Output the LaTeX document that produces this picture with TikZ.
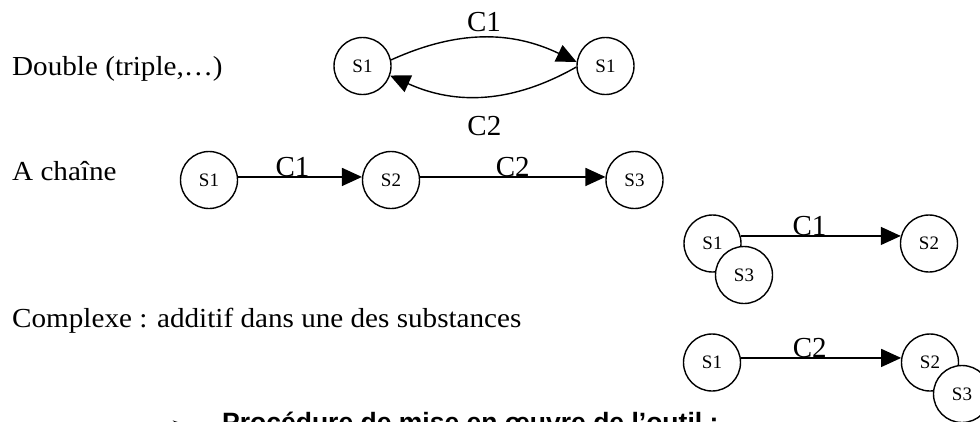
\documentclass[tikz,border=0pt]{standalone}
\usepackage{fontspec}
\setmainfont{Liberation Serif}
\newfontfamily\bodyfont[FakeStretch=1.06]{Liberation Serif}
\newfontfamily\headfont{Liberation Sans}
\newfontfamily\symbfont{DejaVu Sans}
\usepackage{tikz}
\usetikzlibrary{arrows.meta}

\begin{document}
\begin{tikzpicture}[x=1pt, y=1pt,
  state/.style={circle, draw, fill=white, line width=1.4pt, minimum size=57pt,
    inner sep=0pt, font=\fontsize{19}{19}\selectfont},
  link/.style={line width=1.4pt, -{Triangle[length=20pt, width=18pt]}},
  lbl/.style={font=\fontsize{29}{29}\selectfont, inner sep=0pt},
  txt/.style={font=\bodyfont\fontsize{27.5}{30}\selectfont, anchor=base west, inner sep=0pt}]
  \clip (0,0) rectangle (980,-421);
  \node[txt] (tdouble) at (12,-75) {Double (triple,…)};
  \node[txt] (tchain) at (12,-180) {A chaîne};
  \node[txt] (tcomplex) at (12,-327) {Complexe : additif dans une des substances};
  % double
  \node[state] (d1) at (362.5,-66) {S1};
  \node[state] (d2) at (605.5,-66) {S1};
  \draw[link] (d1.12) to[bend left=25] node[lbl, midway, above=5pt] {C1} (d2.172);
  \draw[link] (d2.182) to[bend left=27] node[lbl, midway, below=20pt] {C2} (d1.-19);
  % chain
  \node[state] (a1) at (209,-180) {S1};
  \node[state] (a2) at (391,-180) {S2};
  \node[state] (a3) at (634.5,-180) {S3};
  \draw[link] (a1.6) -- node[lbl, pos=.44, anchor=base] {C1} (a2.174);
  \draw[link] (a2.6) -- node[lbl, pos=.5, anchor=base] {C2} (a3.174);
  % complex
  \node[state] (x1) at (712.5,-243.5) {S1};
  \node[state] (x3) at (744,-275) {S3};
  \node[state] (x2) at (929,-243.5) {S2};
  \draw[link] (x1.15) -- node[lbl, pos=.43, anchor=base] {C1} (x2.165);
  \node[state] (y1) at (712,-362.5) {S1};
  \node[state] (y2) at (930,-362.5) {S2};
  \node[state] (y3) at (962,-394) {S3};
  \draw[link] (y1.9) -- node[lbl, pos=.43, anchor=base] {C2} (y2.171);
  % cut heading
  \node[anchor=base west, inner sep=0pt, font=\symbfont\fontsize{22}{22}\selectfont] (bullet) at (170,-432) {➢};
  \node[anchor=base west, inner sep=0pt, font=\headfont\bfseries\fontsize{26.5}{28}\selectfont] (proc) at (222,-431) {Procédure de mise en œuvre de l’outil :};
\end{tikzpicture}
\end{document}
